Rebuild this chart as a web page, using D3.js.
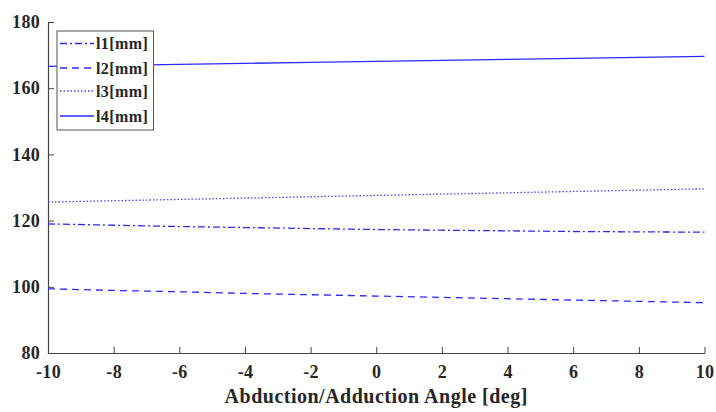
<!DOCTYPE html>
<html><head><meta charset="utf-8">
<script src="https://cdn.jsdelivr.net/npm/d3@7"></script>
<style>body{margin:0;background:#fff}</style>
</head><body>
<svg id="c" width="716" height="412"></svg>
<script>
const angles = [-10, -8, -6, -4, -2, 0, 2, 4, 6, 8, 10];
const l1 = [119.0, 118.6, 118.2, 117.9, 117.6, 117.3, 117.1, 116.9, 116.7, 116.6, 116.5];
const l2 = [99.4, 98.9, 98.5, 98.0, 97.6, 97.2, 96.8, 96.4, 96.0, 95.6, 95.2];
const l3 = [125.6, 126.0, 126.4, 126.8, 127.2, 127.6, 128.0, 128.4, 128.8, 129.2, 129.6];
const l4 = [166.6, 166.9, 167.2, 167.5, 167.8, 168.1, 168.4, 168.7, 169.0, 169.3, 169.6];
const seriesNames = ["l1[mm]", "l2[mm]", "l3[mm]", "l4[mm]"];
const xTicks = [-10, -8, -6, -4, -2, 0, 2, 4, 6, 8, 10];
const yTicks = [80, 100, 120, 140, 160, 180];

const series = [
  {name: seriesNames[0], values: l1, dash: "7,3,2,3", color: "#2a2aff"},
  {name: seriesNames[1], values: l2, dash: "7,5", color: "#2a2aff"},
  {name: seriesNames[2], values: l3, dash: "1.5,2", color: "#4545ff"},
  {name: seriesNames[3], values: l4, dash: null, color: "#2a2aff"}
];

const svg = d3.select("#c");
const x = d3.scaleLinear().domain([-10, 10]).range([48, 704.5]);
const y = d3.scaleLinear().domain([80, 180]).range([353, 22]);
const font = "'Liberation Serif', 'DejaVu Serif', serif";
const axisColor = "#444";
const fmt = d => String(d);

// x axis
const gx = svg.append("g").attr("transform", `translate(0,${y(80)})`)
  .call(d3.axisBottom(x).tickValues(xTicks).tickFormat(fmt).tickSize(-6).tickPadding(12).tickSizeOuter(0));
// y axis
const gy = svg.append("g").attr("transform", `translate(${x(-10)},0)`)
  .call(d3.axisLeft(y).tickValues(yTicks).tickFormat(fmt).tickSize(-6).tickPadding(8).tickSizeOuter(0));
[gx, gy].forEach(g => {
  g.select(".domain").attr("stroke", axisColor).attr("stroke-width", 1.2);
  g.selectAll(".tick line").attr("stroke", axisColor).attr("stroke-width", 1);
  g.selectAll(".tick text").attr("fill", "#262626").style("font-family", font)
    .style("font-size", "18px").style("font-weight", "bold").style("letter-spacing", "0.3px");
});
gx.selectAll(".tick text").attr("dy", "0.71em");

// axis title
svg.append("text").attr("x", x(0)).attr("y", 403).attr("text-anchor", "middle")
  .style("font-family", font).style("font-size", "20px").style("font-weight", "bold")
  .style("letter-spacing", "0.5px")
  .attr("fill", "#262626").text("Abduction/Adduction Angle [deg]");

// lines
const line = d3.line().x((d, i) => x(angles[i])).y(d => y(d));
series.forEach(s => {
  svg.append("path").datum(s.values).attr("d", line)
    .attr("fill", "none").attr("stroke", s.color).attr("stroke-width", 1.3)
    .attr("stroke-dasharray", s.dash);
});

// legend
const lg = svg.append("g");
lg.append("rect").attr("x", 57).attr("y", 31).attr("width", 96.5).attr("height", 99)
  .attr("fill", "#fff").attr("stroke", "#555").attr("stroke-width", 1);
const ly = [43.5, 68, 91, 116];
series.forEach((s, i) => {
  lg.append("line").attr("x1", 60).attr("x2", 94).attr("y1", ly[i]).attr("y2", ly[i])
    .attr("stroke", s.color).attr("stroke-width", 1.3).attr("stroke-dasharray", s.dash);
  lg.append("text").attr("x", 96).attr("y", ly[i]).attr("dy", "0.35em")
    .style("font-family", font).style("font-size", "16px").style("font-weight", "bold")
    .style("letter-spacing", "0.4px")
    .attr("fill", "#262626").text(s.name);
});
</script>
</body></html>
